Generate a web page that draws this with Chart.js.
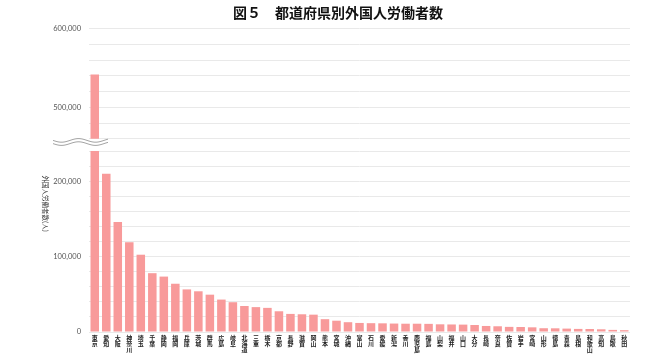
<!DOCTYPE html>
<html lang="ja">
<head>
<meta charset="utf-8">
<title>図5 都道府県別外国人労働者数</title>
<style>
	html, body { margin: 0; padding: 0; background: #fff; }
	#chart { display: block; }
</style>
</head>
<body>
<canvas id="chart" width="650" height="360"></canvas>

<script src="https://cdn.jsdelivr.net/npm/chart.js@4.4.1/dist/chart.umd.min.js"></script>
<script type="text/javascript">
	// 都道府県（多い順）
	var prefectures = [
		"東京", "愛知", "大阪", "神奈川", "埼玉", "千葉", "静岡", "福岡", "兵庫", "茨城",
		"群馬", "広島", "岐阜", "北海道", "三重", "栃木", "京都", "長野", "滋賀", "岡山",
		"熊本", "宮城", "沖縄", "富山", "石川", "愛媛", "新潟", "香川", "鹿児島", "福島",
		"山梨", "福井", "山口", "大分", "長崎", "奈良", "佐賀", "岩手", "宮崎", "山形",
		"徳島", "青森", "島根", "和歌山", "高知", "鳥取", "秋田"
	];
	// 外国人労働者数（人）
	var workers = [
		542000, 210000, 146000, 119000, 102500, 78000, 73500, 64000, 56500, 54000,
		49500, 43000, 39500, 34500, 33000, 32000, 27500, 24000, 23500, 23000,
		17000, 15000, 13000, 12000, 11700, 11500, 11200, 11000, 11000, 10800,
		10200, 10000, 9800, 9300, 8000, 7600, 6800, 6600, 6200, 5000,
		4900, 4500, 4100, 4000, 3600, 2800, 2400
	];
	// 目盛りの数値
	var lowerTicks = [0, 100000, 200000];
	var upperTicks = [500000, 600000];

	// 省略区間（下段 0〜lowerMax、上段 upperMin〜upperMax）
	var lowerMax = 252000;
	var upperMin = 456000;
	var upperMax = 600000;
	var cutLow = 240000;  // 下段の棒はここで切る
	var cutHigh = 460000; // 上段の棒はここから
	var gridStep = 20000;

	var barColor = "#F89A9A";
	var jpFont = "'Noto Sans CJK JP', 'Noto Sans', sans-serif";
	var numFont = "Lato, 'Noto Sans', sans-serif";

	// 縦書きラベル
	var labels = prefectures.map(function(p){ return p.split(""); });

	var lowerData = workers.map(function(v){ return Math.min(v, cutLow); });
	var upperData = workers.map(function(v){ return v > cutLow ? [cutHigh, v] : null; });

	// 目盛り線は2万ごと
	function gridTicks(axis){
		var list = [];
		for(var v = Math.ceil(axis.min / gridStep) * gridStep; v <= axis.max; v += gridStep){
			list.push({ value: v });
		}
		axis.ticks = list;
	}
	// 数値は10万ごと
	function tickLabel(list){
		return function(value){
			return list.indexOf(value) >= 0 ? value.toLocaleString("en-US") : "";
		};
	}

	// 波線と縦軸タイトル
	var breakMark = {
		id: "breakMark",
		afterDraw: function(chart){
			var ctx = chart.ctx;
			var hi = chart.scales.yHigh, lo = chart.scales.yLow;
			var area = chart.chartArea;
			var y = (hi.bottom + lo.top) / 2;
			var x0 = area.left - 36, x1 = area.left + 19;
			var gap = 1.6, amp = 1.8, period = 34;

			function wave(off, reverse){
				var pts = [];
				for(var x = x0; x <= x1; x += 1){
					pts.push([x, y + off + amp * Math.sin((x - x0) / period * 2 * Math.PI)]);
				}
				return reverse ? pts.reverse() : pts;
			}

			ctx.save();
			var top = wave(-gap, false), bottom = wave(gap, true);
			ctx.beginPath();
			top.concat(bottom).forEach(function(p, i){
				if(i == 0) ctx.moveTo(p[0], p[1]); else ctx.lineTo(p[0], p[1]);
			});
			ctx.closePath();
			ctx.fillStyle = "#fff";
			ctx.fill();

			ctx.strokeStyle = "#999";
			ctx.lineWidth = 0.9;
			[top, bottom].forEach(function(line){
				ctx.beginPath();
				line.forEach(function(p, i){
					if(i == 0) ctx.moveTo(p[0], p[1]); else ctx.lineTo(p[0], p[1]);
				});
				ctx.stroke();
			});
			ctx.restore();

			// 縦軸タイトル（上から下へ）
			ctx.save();
			ctx.translate(area.left - 44, lo.getPixelForValue(170000));
			ctx.rotate(Math.PI / 2);
			ctx.fillStyle = "#333";
			ctx.font = "6.5px " + jpFont;
			ctx.textAlign = "center";
			ctx.textBaseline = "middle";
			ctx.fillText("外国人労働者数(人)", 0, 0);
			ctx.restore();
		}
	};

	function yAxis(extra){
		return Object.assign({
			type: "linear",
			position: "left",
			stack: "y",
			afterBuildTicks: gridTicks,
			afterFit: function(axis){ axis.width = 43; },
			grid: { color: "#e9e9e9", lineWidth: 1, drawTicks: false },
			border: { display: false }
		}, extra);
	}

	var myChart = new Chart(document.getElementById("chart"), {
		type: "bar",
		data: {
			labels: labels,
			datasets: [{
				label: "上段",
				data: upperData,
				yAxisID: "yHigh",
				backgroundColor: barColor,
				grouped: false,
				barPercentage: 0.74,
				categoryPercentage: 1
			}, {
				label: "下段",
				data: lowerData,
				yAxisID: "yLow",
				backgroundColor: barColor,
				grouped: false,
				barPercentage: 0.74,
				categoryPercentage: 1
			}]
		},
		options: {
			responsive: false,
			animation: false,
			layout: {
				padding: { left: 46, right: 20, top: 0, bottom: 4 }
			},
			scales: {
				x: {
					grid: { display: false, drawTicks: false },
					border: { display: false },
					ticks: {
						autoSkip: false,
						maxRotation: 0,
						minRotation: 0,
						padding: 3,
						color: "#222",
						font: { family: jpFont, size: 6, weight: "bold", lineHeight: 1 }
					}
				},
				// 左の軸は後に書いたものが上に来る
				yLow: yAxis({
					stackWeight: 188,
					min: 0,
					max: lowerMax,
					ticks: {
						padding: 8,
						autoSkip: false,
						color: "#555",
						font: { family: numFont, size: 7.5 },
						callback: tickLabel(lowerTicks)
					}
				}),
				yHigh: yAxis({
					stackWeight: 112,
					min: upperMin,
					max: upperMax,
					ticks: {
						padding: 8,
						autoSkip: false,
						color: "#555",
						font: { family: numFont, size: 7.5 },
						callback: tickLabel(upperTicks)
					}
				})
			},
			plugins: {
				legend: { display: false },
				tooltip: { enabled: false },
				title: {
					display: true,
					text: "図５　都道府県別外国人労働者数",
					color: "#111",
					font: { family: jpFont, size: 14, weight: "bold" },
					padding: { top: 4, bottom: 8 }
				}
			}
		},
		plugins: [breakMark]
	});
</script>
</body>
</html>
